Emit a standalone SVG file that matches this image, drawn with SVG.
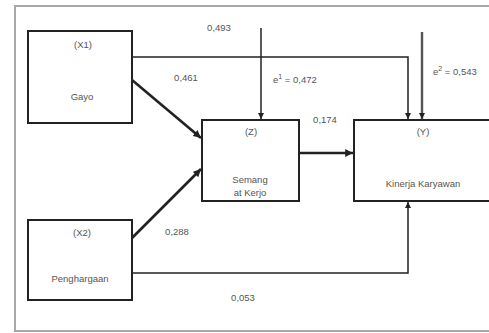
<svg xmlns="http://www.w3.org/2000/svg" width="489" height="333" viewBox="0 0 489 333">
<style>
.box{fill:#fff;stroke:#222;stroke-width:2}
.t{font-family:"Liberation Sans",Arial,sans-serif;font-size:9.5px;fill:#555;text-anchor:middle}
.tl{font-family:"Liberation Sans",Arial,sans-serif;font-size:9.5px;fill:#555}
.c{fill:none;stroke:#222;stroke-width:1.5}
.ct{fill:none;stroke:#222;stroke-width:2.6}
</style>
<defs>
<marker id="ah" viewBox="0 0 10 10" refX="10" refY="5" markerWidth="6" markerHeight="6" markerUnits="userSpaceOnUse" orient="auto">
<path d="M0,0 L10,5 L0,10 z" fill="#222"/>
</marker>
<marker id="ah2" viewBox="0 0 10 10" refX="10" refY="5" markerWidth="3" markerHeight="3" markerUnits="strokeWidth" orient="auto">
<path d="M0,0 L10,5 L0,10 z" fill="#222"/>
</marker>
</defs>
<rect x="0" y="0" width="489" height="333" fill="#fff"/>
<path d="M15,332 V6 H489 M15,331 H489" fill="none" stroke="#a8a8a8" stroke-width="2"/>
<g id="connectors">
<path class="c" d="M132,57 H408 V119" marker-end="url(#ah)"/>
<path class="c" d="M132,273 H408 V202" marker-end="url(#ah)"/>
<path class="c" d="M261,28 V119" marker-end="url(#ah)"/>
<path d="M422,32 V119" fill="none" stroke="#555" stroke-width="2.4" marker-end="url(#ah)"/>
<path class="ct" d="M132,80 L201,138" marker-end="url(#ah2)"/>
<path class="ct" d="M132,238 L201,169" marker-end="url(#ah2)"/>
<path class="ct" d="M299,153 H353" marker-end="url(#ah2)"/>
</g>
<g id="X1">
<rect class="box" x="28" y="31" width="104" height="92"/>
<text class="t" x="83" y="48">(X1)</text>
<text class="t" x="82" y="100">Gayo</text>
</g>
<g id="X2">
<rect class="box" x="28" y="220" width="104" height="80"/>
<text class="t" x="82" y="236">(X2)</text>
<text class="t" x="80" y="282">Penghargaan</text>
</g>
<g id="Z">
<rect class="box" x="202" y="120" width="97" height="81"/>
<text class="t" x="251" y="135">(Z)</text>
<text class="t" x="250" y="183">Semang</text>
<text class="t" x="250" y="196">at Kerjo</text>
</g>
<g id="Y">
<rect class="box" x="354" y="120" width="140" height="81"/>
<text class="t" x="423" y="135">(Y)</text>
<text class="t" x="423" y="187">Kinerja Karyawan</text>
</g>
<g id="labels">
<text class="t" x="219" y="31">0,493</text>
<text class="t" x="186" y="81">0,461</text>
<text class="tl" x="273" y="83">e<tspan font-size="7" dy="-4">1</tspan><tspan dy="4"> = 0,472</tspan></text>
<text class="t" x="325" y="123">0,174</text>
<text class="tl" x="433" y="75">e<tspan font-size="7" dy="-4">2</tspan><tspan dy="4"> = 0,543</tspan></text>
<text class="t" x="177" y="235">0,288</text>
<text class="t" x="243" y="301">0,053</text>
</g>
</svg>
